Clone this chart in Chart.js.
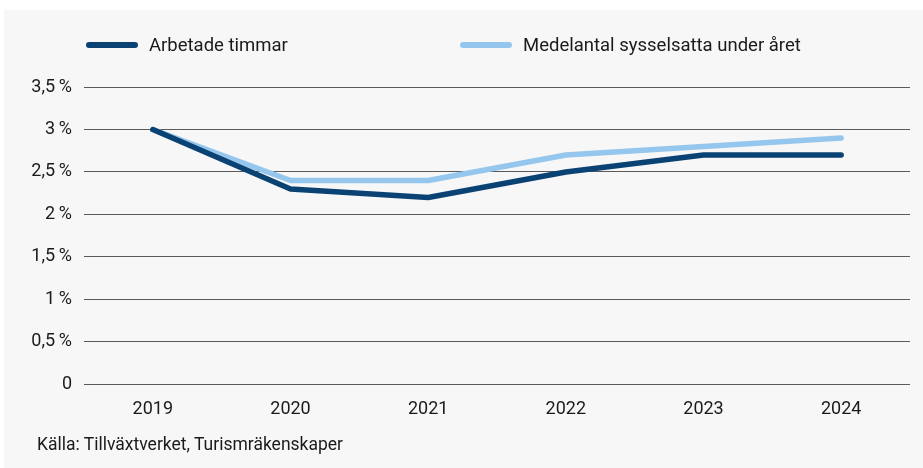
<!DOCTYPE html>
<html>
<head>
<meta charset="utf-8">
<script src="https://cdn.jsdelivr.net/npm/chart.js@4"></script>
<style>
  html, body { margin: 0; padding: 0; background: #fff; }
  body { width: 923px; height: 468px; position: relative; overflow: hidden; font-family: Roboto, sans-serif; color: #1a1a1a; }
  #panel { position: absolute; left: 4px; top: 10px; width: 919px; height: 458px; background: #f7f7f7; }
  #wrap { position: absolute; left: 0; top: 0; width: 923px; height: 468px; }
  .leg { position: absolute; top: 35px; font-size: 18.5px; line-height: 20px; display: flex; align-items: center; }
  .leg i { display: inline-block; width: 52px; height: 6px; border-radius: 3px; margin-right: 11px; }
  #src { position: absolute; left: 37px; top: 434px; font-size: 17.5px; }
</style>
</head>
<body>
<div id="panel"></div>
<div id="wrap"><canvas id="c"></canvas></div>
<div id="legend"></div>
<div id="src">Källa: Tillväxtverket, Turismräkenskaper</div>
<script>
// data
const years = ['2019', '2020', '2021', '2022', '2023', '2024'];
const arbetadeTimmar = [3.0, 2.3, 2.2, 2.5, 2.7, 2.7];
const sysselsatta    = [3.0, 2.4, 2.4, 2.7, 2.8, 2.9];
const seriesNames  = ['Arbetade timmar', 'Medelantal sysselsatta under året'];
const seriesColors = ['#0b4274', '#95c7ee'];
const legendX = [86, 460];

// legend (html, placed like the original)
const legEl = document.getElementById('legend');
seriesNames.forEach((name, i) => {
  const d = document.createElement('div');
  d.className = 'leg';
  d.style.left = legendX[i] + 'px';
  d.innerHTML = `<i style="background:${seriesColors[i]}"></i><span>${name}</span>`;
  legEl.appendChild(d);
});

const fmt = v => v === 0 ? '0' : String(v).replace('.', ',') + '\u2009%';

new Chart(document.getElementById('c').getContext('2d'), {
  type: 'line',
  data: {
    labels: years,
    datasets: [
      { label: seriesNames[0], data: arbetadeTimmar, borderColor: seriesColors[0], borderWidth: 5.5, pointRadius: 0, borderCapStyle: 'round', borderJoinStyle: 'round', tension: 0, fill: false },
      { label: seriesNames[1], data: sysselsatta,    borderColor: seriesColors[1], borderWidth: 5.5, pointRadius: 0, borderCapStyle: 'round', borderJoinStyle: 'round', tension: 0, fill: false },
    ]
  },
  options: {
    responsive: true, maintainAspectRatio: false, animation: false,
    layout: { padding: { top: 87, right: 13, bottom: 34, left: 0 } },
    plugins: { legend: { display: false }, tooltip: { enabled: false } },
    scales: {
      x: {
        offset: true,
        grid: { display: false, drawTicks: false },
        border: { display: false },
        ticks: { color: '#1a1a1a', padding: 14, font: { size: 18, family: 'Roboto' } }
      },
      y: {
        min: 0, max: 3.5,
        afterFit: s => { s.width = 84; },
        grid: { color: '#5a5a5a', lineWidth: 1, drawTicks: false },
        border: { display: false },
        ticks: { stepSize: 0.5, color: '#1a1a1a', padding: 12, font: { size: 18, family: 'Roboto' }, callback: v => fmt(v) }
      }
    }
  }
});
</script>
</body>
</html>
